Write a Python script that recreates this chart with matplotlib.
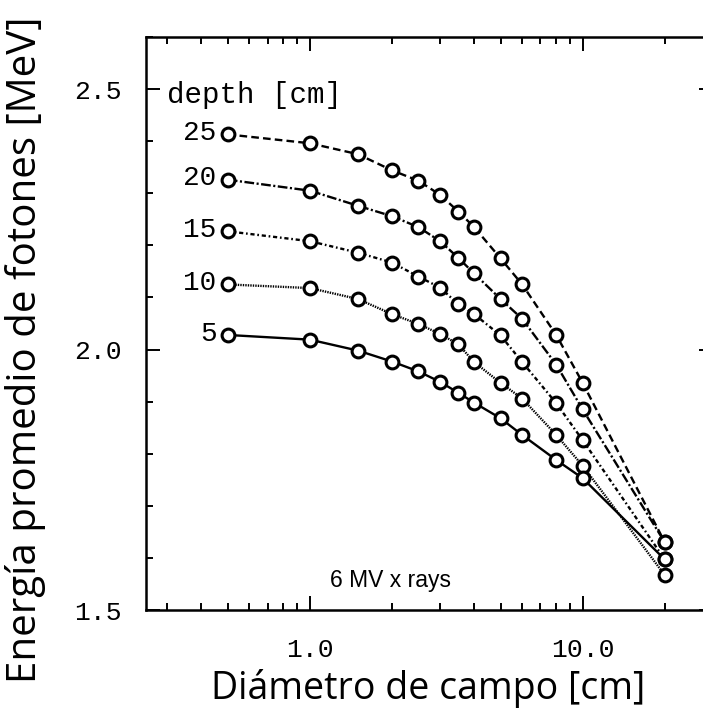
import matplotlib
matplotlib.use("Agg")
import matplotlib.pyplot as plt
from matplotlib.ticker import FixedLocator, FixedFormatter, NullFormatter

# field diameter [cm] and mean photon energy [MeV] for each depth
diametro = [0.5, 1.0, 1.5, 2.0, 2.5, 3.0, 3.5, 4.0, 5.0, 6.0, 8.0, 10.0, 20.0]
e_25 = [2.413, 2.396, 2.375, 2.344, 2.324, 2.297, 2.265, 2.235, 2.175, 2.125, 2.028, 1.936, 1.630]
e_20 = [2.326, 2.305, 2.276, 2.256, 2.235, 2.208, 2.176, 2.146, 2.097, 2.059, 1.971, 1.885, 1.630]
e_15 = [2.227, 2.208, 2.186, 2.167, 2.140, 2.119, 2.087, 2.068, 2.027, 1.976, 1.897, 1.826, 1.597]
e_10 = [2.125, 2.118, 2.097, 2.068, 2.049, 2.030, 2.010, 1.976, 1.936, 1.906, 1.836, 1.777, 1.567]
e_5 = [2.028, 2.019, 1.998, 1.977, 1.958, 1.938, 1.917, 1.898, 1.868, 1.836, 1.788, 1.753, 1.597]
depth_labels = ["25", "20", "15", "10", "5"]

x_major = [1.0, 10.0]
x_major_labels = ["1.0", "10.0"]
x_minor = [0.3, 0.4, 0.5, 0.6, 0.7, 0.8, 0.9, 2, 3, 4, 5, 6, 7, 8, 9, 20]
y_major = [1.5, 2.0, 2.5]
y_major_labels = ["1.5", "2.0", "2.5"]
y_minor = [1.6, 1.7, 1.8, 1.9, 2.1, 2.2, 2.3, 2.4, 2.6]

plt.rcParams["lines.scale_dashes"] = False

W, H = 703, 711
fig = plt.figure(figsize=(W / 100, H / 100), dpi=100)
ax = fig.add_axes([145.7 / W, 1 - 610 / H, (712.8 - 145.7) / W, 573 / H])

styles = [
    (0, (5.5, 3.0)),
    (0, (7.0, 1.8, 1.5, 1.8)),
    (0, (3.0, 2.0, 1.2, 2.0)),
    (0, (1.0, 0.8)),
    "-",
]
series = [e_25, e_20, e_15, e_10, e_5]

for vals, lab, ls in zip(series, depth_labels, styles):
    ax.plot(diametro, vals, color="black", linestyle=ls, linewidth=1.7,
            marker="o", markersize=9.2, markerfacecolor="white",
            markeredgecolor="black", markeredgewidth=2.2)
    ax.annotate(lab, (diametro[0], vals[0]), xytext=(-8, 1),
                textcoords="offset points", ha="right", va="center",
                family="Liberation Mono", fontsize=20)

ax.set_xscale("log")
ax.set_xlim(0.25, 30)
ax.set_ylim(1.5, 2.6)

ax.xaxis.set_major_locator(FixedLocator(x_major))
ax.xaxis.set_major_formatter(FixedFormatter(x_major_labels))
ax.xaxis.set_minor_locator(FixedLocator(x_minor))
ax.xaxis.set_minor_formatter(NullFormatter())
ax.yaxis.set_major_locator(FixedLocator(y_major))
ax.yaxis.set_major_formatter(FixedFormatter(y_major_labels))
ax.yaxis.set_minor_locator(FixedLocator(y_minor))

ax.tick_params(which="both", direction="in", top=True, right=True, width=1.4)
ax.tick_params(which="major", length=10)
ax.tick_params(which="minor", length=5)
ax.tick_params(axis="x", which="major", pad=20)
ax.tick_params(axis="y", which="major", pad=17)
for t in ax.get_xticklabels() + ax.get_yticklabels():
    t.set_family("Liberation Mono")
    t.set_fontsize(19)
for s in ax.spines.values():
    s.set_linewidth(1.8)

ax.text(0.038, 0.899, "depth [cm]", transform=ax.transAxes,
        family="Liberation Mono", fontsize=21, ha="left", va="center")
ax.text(0.431, 0.052, "6 MV x rays", transform=ax.transAxes,
        family="Liberation Sans", fontsize=16.5, ha="center", va="center")

fig.text(26 / W, 1 - 350 / H, "Energía promedio de fotones [MeV]",
         rotation=90, ha="center", va="center", family="Open Sans", fontsize=29)
fig.text(428 / W, 1 - 688 / H, "Diámetro de campo [cm]",
         ha="center", va="center", family="Open Sans", fontsize=27)

fig.savefig("out.png", dpi=100)
